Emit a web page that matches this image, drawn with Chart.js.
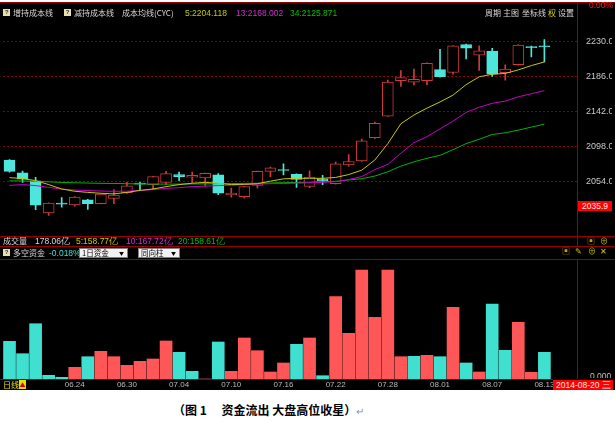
<!DOCTYPE html>
<html lang="zh">
<head>
  <meta charset="UTF-8" />
  <title>资金流出 大盘高位收星</title>
  <script src="https://cdn.jsdelivr.net/npm/chart.js"></script>
  <style>
    body {
      margin: 0;
      width: 615px;
      height: 424px;
      background: #ffffff;
      position: relative;
      overflow: hidden;
      font-family: 'Noto Sans CJK SC', 'Liberation Sans', sans-serif;
    }
    .screen {
      position: absolute;
      left: 0;
      top: 2px;
      width: 615px;
      height: 388px;
      background: #000000;
    }
    .t {
      position: absolute;
      white-space: nowrap;
      font-size: 8px;
      line-height: 10px;
      color: #d8d8d8;
    }
    .num { font-family: 'Liberation Sans', sans-serif; font-size: 8.5px; }
    .hl { position: absolute; height: 1px; background: #9a0000; }
    .vl { position: absolute; width: 1px; background: #9a0000; }
    .q {
      position: absolute;
      width: 7px;
      height: 7px;
      background: #e6dfb0;
      color: #303030;
      font: bold 6px/7px 'Liberation Sans', sans-serif;
      text-align: center;
    }
    .drop {
      position: absolute;
      height: 10px;
      background: #f2f2f2;
      border: 1px solid #808080;
      box-sizing: border-box;
      color: #000;
      font-size: 7.5px;
      line-height: 8px;
      padding-left: 2px;
    }
    .drop span { position: absolute; right: 3px; font-size: 5px; }
    canvas { position: absolute; }
    .caption {
      position: absolute;
      left: 173px;
      top: 401px;
      font-size: 12px;
      font-weight: bold;
      color: #000;
      white-space: nowrap;
    }
  </style>
</head>
<body>
  <div class="screen"></div>

  <canvas id="kline" width="609" height="216" style="left:3px; top:20px;"></canvas>
  <canvas id="flow" width="574" height="127" style="left:3px; top:262px;"></canvas>

  <!-- frame lines -->
  <div class="hl" style="left:0; top:2px; width:615px;"></div>
  <div class="hl" style="left:0; top:236px; width:615px;"></div>
  <div class="hl" style="left:0; top:246px; width:615px;"></div>
  <div class="hl" style="left:0; top:259px; width:615px;"></div>
  <div class="hl" style="left:0; top:379px; width:553px;"></div>
  <div class="vl" style="left:577px; top:2px; height:244px;"></div>
  <div class="vl" style="left:577px; top:259px; height:120px;"></div>

  <!-- header of the price panel -->
  <div class="q" style="left:3px; top:9px;">?</div>
  <div class="t" style="left:13px; top:8px;">增持成本线</div>
  <div class="q" style="left:64px; top:9px;">?</div>
  <div class="t" style="left:74px; top:8px;">减持成本线</div>
  <div class="t" style="left:122px; top:8px;">成本均线(CYC)</div>
  <div class="t num" style="left:185px; top:8px; color:#c8c800;" id="ma5Text"></div>
  <div class="t num" style="left:236px; top:8px; color:#d030d0;" id="ma13Text"></div>
  <div class="t num" style="left:290px; top:8px; color:#00c000;" id="ma34Text"></div>
  <div class="t" style="left:485px; top:8px;">周期</div>
  <div class="t" style="left:503px; top:8px;">主图</div>
  <div class="t" style="left:522px; top:8px;">坐标线</div>
  <div class="t" style="left:548px; top:8px; color:#e0d000;">权</div>
  <div class="t" style="left:558px; top:8px;">设置</div>
  <div class="t num" style="left:589px; top:0px; color:#ff2020;">0.00%</div>

  <div class="t num" style="left:578px; top:201px; width:34px; height:10px; background:#ff0000; color:#ffe8e8; text-align:center;">2035.9</div>

  <!-- volume row -->
  <div class="t" style="left:3px; top:236px;">成交量</div>
  <div class="t num" style="left:35px; top:236px;">178.06亿</div>
  <div class="t num" style="left:76px; top:236px; color:#c8c800;">5:158.77亿</div>
  <div class="t num" style="left:126px; top:236px; color:#d030d0;">10:167.72亿</div>
  <div class="t num" style="left:178px; top:236px; color:#00c000;">20:158.61亿</div>
  <div class="t" style="left:587px; top:236px; color:#c8a000;">▣</div>
  <div class="t" style="left:600px; top:236px; color:#b8c000;">⊕</div>

  <!-- money flow row -->
  <div class="q" style="left:3px; top:249px;">?</div>
  <div class="t" style="left:13px; top:248px;">多空资金</div>
  <div class="t num" style="left:49px; top:248px; color:#40e0d0;">-0.018%</div>
  <div class="drop" style="left:79px; top:248px; width:49px;">1日资金<span>▼</span></div>
  <div class="drop" style="left:138px; top:248px; width:42px;">同向柱<span>▼</span></div>
  <div class="t" style="left:562px; top:246px; color:#c8a000;">▣</div>
  <div class="t" style="left:575px; top:246px; color:#b8c000;">✎</div>
  <div class="t" style="left:588px; top:246px; color:#b8c000;">⊕</div>
  <div class="t" style="left:600px; top:246px; color:#d8d000;">✕</div>

  <!-- bottom bar -->
  <div class="t num" style="left:590px; top:371px; height:7px; overflow:hidden; color:#c0c0c0;">0.000</div>
  <div class="t" style="left:3px; top:380px; color:#e8e000;">日线</div>
  <div class="t" style="left:19px; top:380px; width:7px; height:9px; background:#e8e000; color:#d00000; font-size:6px; text-align:center;">▲</div>
  <div class="t num" style="left:553px; top:380px; width:60px; height:10px; background:#ff0000; color:#ffe8e8; padding-left:3px; box-sizing:border-box;">2014-08-20 三</div>

  <div class="caption">（图 1　 资金流出 大盘高位收星）<span style="font-weight:normal; color:#909090; font-size:10px;">↵</span></div>

  <script>
    // trading days shown on the chart
    const dates = [
      '06.17', '06.18', '06.19', '06.20', '06.23', '06.24', '06.25', '06.26', '06.27', '06.30',
      '07.01', '07.02', '07.03', '07.04', '07.07', '07.08', '07.09', '07.10', '07.11', '07.14',
      '07.15', '07.16', '07.17', '07.18', '07.21', '07.22', '07.23', '07.24', '07.25', '07.28',
      '07.29', '07.30', '07.31', '08.01', '08.04', '08.05', '08.06', '08.07', '08.08', '08.11',
      '08.12', '08.13'
    ];
    const dateTicks = ['06.24', '06.30', '07.04', '07.10', '07.16', '07.22', '07.28', '08.01', '08.07', '08.13'];
    const priceTicks = [2230, 2186, 2142, 2098, 2054];

    const openPrices = [
      2080.8, 2064.8, 2054.7, 2014.4, 2026.7, 2024.5, 2030.7, 2026.0, 2032.6, 2039.8,
      2051.8, 2050.0, 2052.8, 2062.6, 2059.4, 2058.3, 2062.2, 2037.2, 2034.7, 2048.9,
      2066.7, 2068.8, 2063.0, 2047.8, 2057.2, 2051.0, 2074.6, 2079.7, 2108.8, 2136.0,
      2180.7, 2178.8, 2180.7, 2194.4, 2190.8, 2226.0, 2212.6, 2217.7, 2190.5, 2200.6,
      2223.5, 2224.2
    ];
    const highPrices = [
      2081.5, 2067.0, 2059.0, 2027.0, 2033.6, 2034.8, 2031.5, 2038.3, 2043.8, 2052.8,
      2052.8, 2060.5, 2066.7, 2065.6, 2065.6, 2064.5, 2063.7, 2045.6, 2047.8, 2067.0,
      2072.0, 2076.0, 2063.5, 2067.4, 2061.5, 2078.3, 2087.7, 2107.3, 2128.4, 2181.3,
      2193.3, 2195.2, 2203.0, 2219.9, 2224.8, 2226.5, 2224.2, 2221.3, 2200.6, 2226.0,
      2224.0, 2232.2
    ];
    const lowPrices = [
      2065.6, 2052.8, 2018.4, 2011.4, 2021.7, 2023.0, 2018.7, 2025.6, 2026.0, 2039.0,
      2042.7, 2044.5, 2050.0, 2055.0, 2052.8, 2048.1, 2037.2, 2034.3, 2033.0, 2045.6,
      2060.1, 2062.2, 2046.3, 2046.0, 2050.0, 2050.5, 2073.2, 2079.0, 2108.0, 2135.5,
      2173.4, 2175.2, 2175.2, 2185.0, 2188.6, 2207.9, 2193.3, 2186.0, 2181.3, 2200.0,
      2210.4, 2204.2
    ];
    const closePrices = [
      2066.7, 2056.8, 2024.0, 2026.7, 2025.3, 2034.3, 2026.0, 2038.0, 2036.9, 2048.5,
      2050.6, 2060.1, 2063.7, 2060.1, 2061.5, 2064.1, 2039.1, 2039.1, 2047.4, 2066.7,
      2071.0, 2067.7, 2056.5, 2059.4, 2054.7, 2076.0, 2079.0, 2105.0, 2126.9, 2178.8,
      2184.3, 2182.1, 2202.4, 2185.7, 2224.2, 2221.3, 2218.0, 2188.6, 2195.2, 2225.3,
      2222.0, 2223.1
    ];

    // cost moving average lines (CYC 5 / 13 / 34)
    const ma5 = [
      2058.7, 2057.6, 2055.0, 2050.0, 2044.5, 2041.6, 2040.2, 2039.1, 2038.3, 2040.2,
      2042.7, 2044.5, 2047.4, 2050.0, 2051.7, 2052.8, 2051.7, 2050.0, 2050.3, 2051.1,
      2054.3, 2057.2, 2057.9, 2057.9, 2057.9, 2059.0, 2062.6, 2068.1, 2080.8, 2101.5,
      2126.5, 2137.4, 2146.1, 2153.8, 2162.5, 2175.6, 2185.4, 2188.6, 2189.7, 2194.1,
      2199.5, 2204.118
    ];
    const ma13 = [
      2048.9, 2050.0, 2048.7, 2046.5, 2044.4, 2043.1, 2042.5, 2041.9, 2041.6, 2041.7,
      2042.5, 2043.7, 2045.2, 2046.1, 2047.5, 2048.1, 2048.7, 2049.4, 2050.1, 2050.6,
      2051.1, 2051.4, 2051.8, 2052.3, 2052.8, 2053.6, 2056.3, 2060.1, 2068.8, 2075.4,
      2089.5, 2102.6, 2110.2, 2120.0, 2129.8, 2140.7, 2147.2, 2152.1, 2154.9, 2160.3,
      2164.1, 2168.002
    ];
    const ma34 = [
      2054.7, 2054.5, 2054.0, 2053.5, 2052.7, 2052.3, 2051.9, 2051.6, 2051.4, 2051.1,
      2050.8, 2050.7, 2050.6, 2050.6, 2050.8, 2050.9, 2051.1, 2051.3, 2051.5, 2051.7,
      2052.0, 2052.4, 2052.7, 2053.0, 2053.6, 2054.1, 2055.8, 2057.4, 2060.7, 2066.1,
      2073.2, 2078.6, 2083.0, 2086.8, 2093.9, 2101.5, 2107.0, 2112.9, 2115.1, 2118.4,
      2122.2, 2125.871
    ];

    // 多空资金 (negative = outflow, drawn cyan)
    const flowValues = [
      -37.7, -25.3, -55.3, -3.7, -1.7, 11.7, -22.3, 27.7, 22.3, 13.7,
      17.7, 20.0, 38.0, -26.7, -7.7, 0, -37.0, 7.7, 41.0, 28.3,
      7.0, 16.0, -34.7, 41.0, -3.3, 82.3, 45.7, 109.0, 61.7, 109.0,
      22.3, -22.7, 23.7, -22.3, 71.7, -16.0, 7.0, -75.0, -28.7, 56.7,
      6.7, -26.7
    ];

    const UP = '#d03a3a';
    const DOWN = '#4ee6dc';
    const BAR_UP = '#ff5757';
    const BAR_DOWN = '#40e0d0';

    // two empty slots on the right like the trading software
    const slots = dates.concat(['', '']);

    const last = dates.length - 1;
    document.getElementById('ma5Text').textContent = '5:' + ma5[last].toFixed(3);
    document.getElementById('ma13Text').textContent = '13:' + ma13[last].toFixed(3);
    document.getElementById('ma34Text').textContent = '34:' + ma34[last].toFixed(3);

    const candleColor = openPrices.map((o, i) => closePrices[i] >= o ? UP : DOWN);

    function maLine(label, data, color) {
      return {
        type: 'line',
        label: label,
        data: data,
        borderColor: color,
        borderWidth: 1,
        pointRadius: 0,
        tension: 0,
        order: 0
      };
    }

    new Chart(document.getElementById('kline'), {
      type: 'bar',
      data: {
        labels: slots,
        datasets: [
          maLine('MA5', ma5, '#c8c800'),
          maLine('MA13', ma13, '#c800c8'),
          maLine('MA34', ma34, '#00b400'),
          {
            label: 'body',
            data: openPrices.map((o, i) => [o, closePrices[i]]),
            backgroundColor: candleColor.map(c => c === UP ? '#000000' : DOWN),
            borderColor: candleColor,
            borderWidth: 1,
            borderSkipped: false,
            barThickness: 11,
            grouped: false,
            order: 1
          },
          {
            label: 'wick',
            data: lowPrices.map((l, i) => [l, highPrices[i]]),
            backgroundColor: candleColor,
            barThickness: 1,
            grouped: false,
            order: 2
          }
        ]
      },
      options: {
        responsive: false,
        animation: false,
        layout: { padding: 0 },
        plugins: { legend: { display: false }, tooltip: { enabled: false } },
        scales: {
          x: { display: false, offset: true },
          y: {
            position: 'right',
            min: 2003.5,
            max: 2238.7,
            afterBuildTicks: s => { s.ticks = priceTicks.map(v => ({ value: v })); },
            afterFit: s => { s.width = 35; },
            grid: { color: '#8a0000', drawTicks: false },
            border: { display: false, dash: [2, 2] },
            ticks: {
              color: '#c8c8c8',
              padding: 9,
              font: { size: 9, family: 'Liberation Sans' },
              callback: v => v.toFixed(1)
            }
          }
        }
      }
    });

    new Chart(document.getElementById('flow'), {
      type: 'bar',
      data: {
        labels: slots,
        datasets: [{
          label: '多空资金',
          data: flowValues.map(v => Math.abs(v)),
          backgroundColor: flowValues.map(v => v >= 0 ? BAR_UP : BAR_DOWN),
          barThickness: 12
        }]
      },
      options: {
        responsive: false,
        animation: false,
        layout: { padding: 0 },
        plugins: { legend: { display: false }, tooltip: { enabled: false } },
        scales: {
          x: {
            offset: true,
            grid: { display: false, drawTicks: false },
            border: { display: false },
            afterFit: s => { s.height = 10; },
            ticks: {
              color: '#b8b8b8',
              padding: 1,
              maxRotation: 0,
              autoSkip: false,
              font: { size: 8, family: 'Liberation Sans' },
              callback: (v, i) => dateTicks.includes(slots[i]) ? slots[i] : ''
            }
          },
          y: { display: false, min: 0, max: 117 }
        }
      }
    });
  </script>
</body>
</html>
